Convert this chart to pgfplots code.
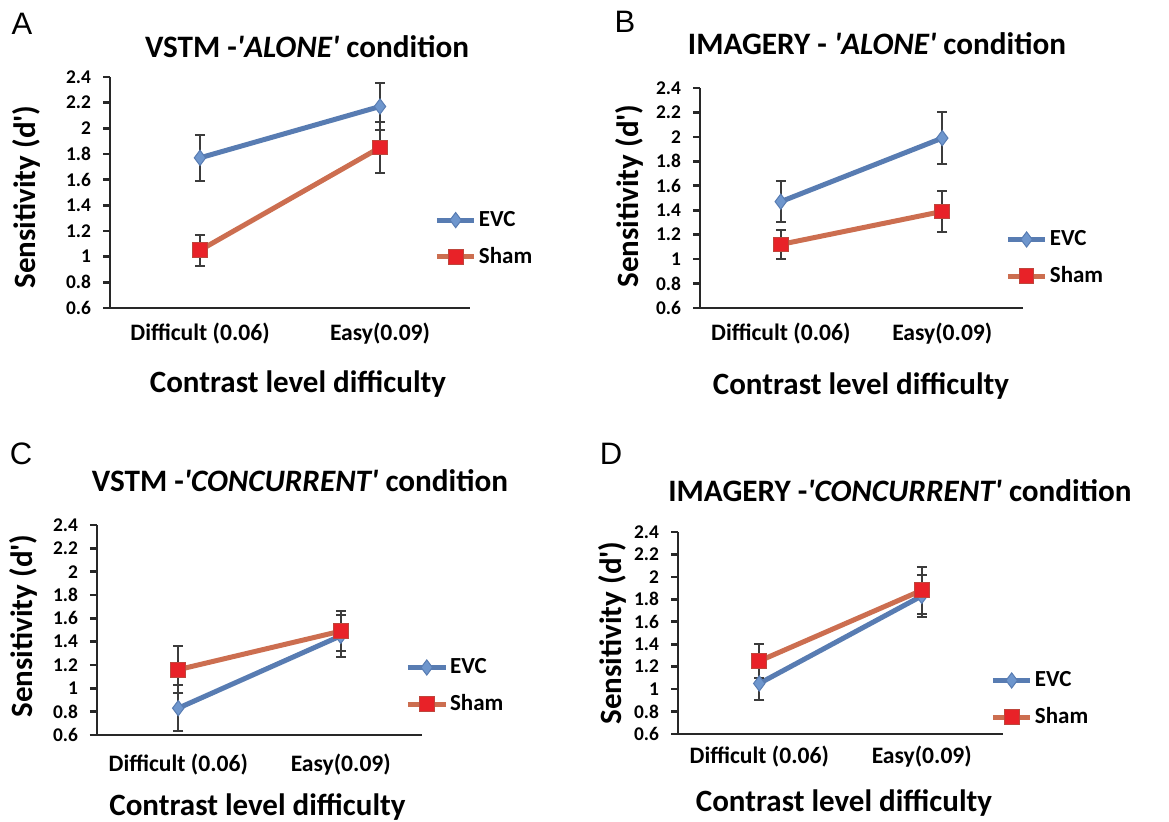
\documentclass[border=0pt]{standalone}
\usepackage{fontspec}
\setmainfont{Carlito}
\newfontfamily\letterfont{Liberation Sans}
\usepackage{pgfplots}
\pgfplotsset{compat=1.18}

\definecolor{evcline}{RGB}{88,124,178}
\definecolor{evcfill}{RGB}{110,150,205}
\definecolor{shamline}{RGB}{204,110,80}
\definecolor{shamfill}{RGB}{232,34,40}
\definecolor{shamedge}{RGB}{190,70,60}
\definecolor{axisgray}{RGB}{40,40,40}
\definecolor{errgray}{RGB}{60,60,60}

\newcommand{\q}{\textquotesingle}

\pgfplotsset{
  panel/.style={
    scale only axis,
    axis x line*=bottom,
    axis y line*=left,
    axis line style={-, line width=1pt, color=axisgray},
    x axis line style={shorten <=-3.5pt},
    xmin=-0.5, xmax=1.5,
    ymin=0.6, ymax=2.4,
    xtick={0,1},
    xticklabels={Difficult (0.06), Easy(0.09)},
    xtick style={draw=none},
    ytick={0.6,0.8,1,1.2,1.4,1.6,1.8,2,2.2,2.4},
    ytick style={draw=axisgray, line width=1.3pt},
    ytick align=outside,
    major tick length=3.5pt,
    yticklabel style={font=\bfseries\fontsize{9.7}{10}\selectfont, xshift=-2.5pt, /pgf/number format/assume math mode=true},
    xticklabel style={font=\bfseries\fontsize{11.8}{12}\selectfont, anchor=base},
    legend cell align=left,
    legend image code/.code={\draw[mark repeat=2,mark phase=2,#1] plot coordinates {(0cm,0cm) (0.33cm,0cm) (0.66cm,0cm)};},
    legend style={draw=none, fill=none, anchor=west, inner sep=0pt,
      font=\bfseries\fontsize{11.5}{13}\selectfont,
      nodes={inner sep=1pt}, row sep=7pt},
  },
  evc/.style={color=evcline, line width=2.5pt, mark=diamond*, mark size=3.8pt,
    mark options={fill=evcfill, draw=evcline, line width=0.5pt}},
  sham/.style={color=shamline, line width=2.5pt, mark=square*, mark size=3.7pt,
    mark options={fill=shamfill, draw=shamedge, line width=0.5pt}},
  errs/.style={forget plot, color=errgray, only marks, mark=*, mark size=0pt,
    error bars/.cd, y dir=both, y explicit, error mark=-,
    error bar style={line width=1pt, color=errgray},
    error mark options={rotate=90, line width=1pt, color=errgray, mark size=2.5pt}},
}

\begin{document}
\begin{tikzpicture}
\useasboundingbox (0,0) rectangle (584.5pt,411pt);

% panel letters
\node[anchor=base, font=\letterfont\fontsize{15.5}{16}\selectfont] at (11pt,393.5pt) {A};
\node[anchor=base, font=\letterfont\fontsize{15.5}{16}\selectfont] at (312.5pt,394.5pt) {B};
\node[anchor=base, font=\letterfont\fontsize{15.5}{16}\selectfont] at (10.5pt,178.5pt) {C};
\node[anchor=base, font=\letterfont\fontsize{15.5}{16}\selectfont] at (305.5pt,178.5pt) {D};

% titles
\node[anchor=base, font=\bfseries\fontsize{15.6}{17}\selectfont] at (153.5pt,382pt) {VSTM -\textit{\q ALONE\q} condition};
\node[anchor=base, font=\bfseries\fontsize{15.6}{17}\selectfont] at (438.5pt,383.5pt) {IMAGERY - \textit{\q ALONE\q} condition};
\node[anchor=base, font=\bfseries\fontsize{15.6}{17}\selectfont] at (150pt,165pt) {VSTM -\textit{\q CONCURRENT\q} condition};
\node[anchor=base, font=\bfseries\fontsize{15.6}{17}\selectfont] at (450pt,160pt) {IMAGERY -\textit{\q CONCURRENT\q} condition};

% x labels
\node[anchor=base, font=\bfseries\fontsize{15.5}{17}\selectfont] at (149pt,214.5pt) {Contrast level difficulty};
\node[anchor=base, font=\bfseries\fontsize{15.5}{17}\selectfont] at (430.5pt,213.5pt) {Contrast level difficulty};
\node[anchor=base, font=\bfseries\fontsize{15.5}{17}\selectfont] at (128.75pt,3pt) {Contrast level difficulty};
\node[anchor=base, font=\bfseries\fontsize{15.5}{17}\selectfont] at (422pt,5pt) {Contrast level difficulty};

% y labels
\node[anchor=base, rotate=90, font=\bfseries\fontsize{15.5}{17}\selectfont] at (17.5pt,312.5pt) {Sensitivity (d\q)};
\node[anchor=base, rotate=90, font=\bfseries\fontsize{15.5}{17}\selectfont] at (319pt,313pt) {Sensitivity (d\q)};
\node[anchor=base, rotate=90, font=\bfseries\fontsize{15.5}{17}\selectfont] at (16pt,98pt) {Sensitivity (d\q)};
\node[anchor=base, rotate=90, font=\bfseries\fontsize{15.5}{17}\selectfont] at (310.5pt,94.5pt) {Sensitivity (d\q)};

% A
\begin{axis}[panel, at={(55pt,257pt)}, anchor=south west, width=180pt, height=115.5pt,
  xticklabel style={yshift=-16.5pt},
  legend style={at={(0.90,0.30)}}]
\addplot[evc] coordinates {(0,1.77) (1,2.17)};
\addplot[sham] coordinates {(0,1.05) (1,1.85)};
\legend{EVC, Sham}
\addplot[errs] coordinates {(0,1.77) +- (0,0.18) (1,2.17) +- (0,0.18)};
\addplot[errs] coordinates {(0,1.05) +- (0,0.12) (1,1.85) +- (0,0.20)};
\end{axis}

% B
\begin{axis}[panel, at={(350pt,257pt)}, anchor=south west, width=161.5pt, height=110pt,
  xticklabel style={yshift=-16.5pt},
  legend style={at={(0.944,0.227)}}]
\addplot[evc] coordinates {(0,1.47) (1,1.99)};
\addplot[sham] coordinates {(0,1.12) (1,1.39)};
\legend{EVC, Sham}
\addplot[errs] coordinates {(0,1.47) +- (0,0.17) (1,1.99) +- (0,0.21)};
\addplot[errs] coordinates {(0,1.12) +- (0,0.12) (1,1.39) +- (0,0.17)};
\end{axis}

% C
\begin{axis}[panel, at={(48.5pt,43.5pt)}, anchor=south west, width=162.5pt, height=105pt,
  xticklabel style={yshift=-18.5pt},
  legend style={at={(0.948,0.233)}}]
\addplot[evc] coordinates {(0,0.83) (1,1.45)};
\addplot[sham] coordinates {(0,1.16) (1,1.49)};
\legend{EVC, Sham}
\addplot[errs] coordinates {(0,0.83) +- (0,0.20) (1,1.45) +- (0,0.18)};
\addplot[errs] coordinates {(0,1.16) +- (0,0.20) (1,1.49) +- (0,0.17)};
\end{axis}

% D
\begin{axis}[panel, at={(339pt,44pt)}, anchor=south west, width=162.5pt, height=101pt,
  xticklabel style={yshift=-15pt},
  legend style={at={(0.96,0.173)}}]
\addplot[evc] coordinates {(0,1.05) (1,1.83)};
\addplot[sham] coordinates {(0,1.25) (1,1.88)};
\legend{EVC, Sham}
\addplot[errs] coordinates {(0,1.05) +- (0,0.15) (1,1.83) +- (0,0.19)};
\addplot[errs] coordinates {(0,1.25) +- (0,0.15) (1,1.88) +- (0,0.21)};
\end{axis}
\end{tikzpicture}
\end{document}
